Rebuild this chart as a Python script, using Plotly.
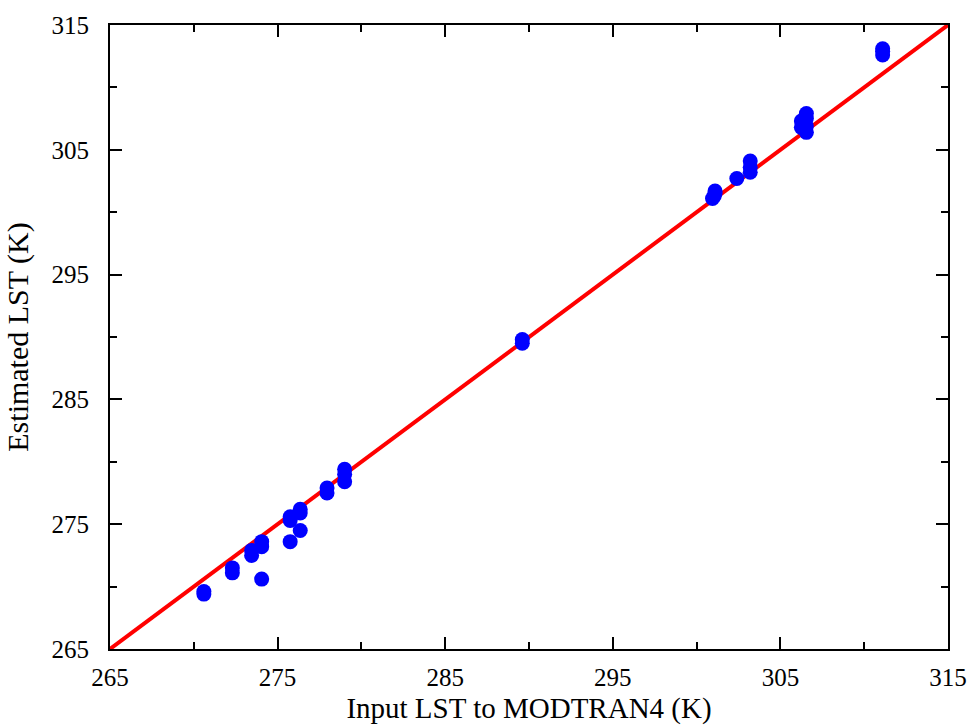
import plotly.graph_objects as go

# Input LST (x) and estimated LST (y), in K
input_lst = [270.6, 270.6,
             272.3, 272.3,
             273.45, 273.45,
             274.05, 274.05, 274.05,
             275.75, 275.75, 275.75,
             276.35, 276.35, 276.35,
             277.95, 277.95,
             279.0, 279.0, 279.0,
             289.6, 289.6,
             300.95, 301.05, 301.1, 301.1,
             302.4,
             303.2, 303.2, 303.2,
             306.25, 306.25, 306.55, 306.55, 306.55, 306.55,
             311.1, 311.1, 311.1]
estimated_lst = [269.4, 269.6,
                 271.1, 271.5,
                 272.5, 272.9,
                 273.2, 273.6, 270.6,
                 273.6, 275.3, 275.6,
                 274.5, 275.9, 276.2,
                 277.5, 277.9,
                 278.4, 279.0, 279.4,
                 289.5, 289.8,
                 301.1, 301.3, 301.5, 301.7,
                 302.7,
                 303.2, 303.6, 304.1,
                 306.8, 307.3, 306.4, 306.9, 307.5, 307.9,
                 312.6, 312.9, 313.1]

line_x = [265, 315]
line_y = [265, 315]

x_ticks = [265, 275, 285, 295, 305, 315]
y_ticks = [265, 275, 285, 295, 305, 315]

fig = go.Figure()
fig.add_trace(go.Scatter(x=line_x, y=line_y, mode="lines",
                         line=dict(color="#ff0000", width=4),
                         showlegend=False, hoverinfo="skip"))
fig.add_trace(go.Scatter(x=input_lst, y=estimated_lst, mode="markers",
                         marker=dict(color="#0000ff", size=15, line=dict(width=0)),
                         showlegend=False))

serif = "Liberation Serif"
axis_common = dict(
    showgrid=False, zeroline=False, showline=True, linecolor="black",
    linewidth=2, mirror="allticks", ticks="inside", ticklen=12, tickwidth=2,
    tickcolor="black", automargin=False,
    tickfont=dict(family=serif, size=25, color="black"),
    minor=dict(ticks="inside", ticklen=7, tickwidth=2, tickcolor="black", dtick=5, tick0=265),
)

fig.update_xaxes(range=[265, 315], tickvals=x_ticks, ticktext=[str(v) for v in x_ticks],
                 ticklabelstandoff=5,
                 title=dict(text="Input LST to MODTRAN4 (K)",
                            font=dict(family=serif, size=29, color="black"),
                            standoff=8),
                 **axis_common)
fig.update_yaxes(range=[265, 315], tickvals=y_ticks, ticktext=[str(v) for v in y_ticks],
                 ticklabelstandoff=14,
                 title=dict(text="Estimated LST (K)",
                            font=dict(family=serif, size=30, color="black"),
                            standoff=14),
                 **axis_common)

fig.update_layout(width=970, height=728,
                  margin=dict(l=110, r=22, t=25, b=79),
                  plot_bgcolor="white", paper_bgcolor="white")

fig.write_html("out.html")
